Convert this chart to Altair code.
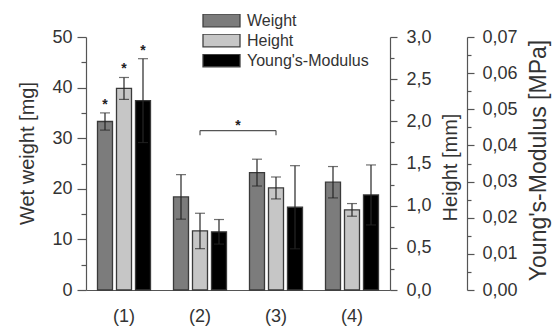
import altair as alt
import pandas as pd

FONT = "Liberation Sans"
TXT = "#333333"
AX = "#555555"

groups = ["(1)", "(2)", "(3)", "(4)"]
series = ["Weight", "Height", "Young's-Modulus"]
colors = ["#7c7c7c", "#c6c6c6", "#000000"]

weight_mean = [33.3, 18.4, 23.2, 21.3]
weight_sd = [1.7, 4.4, 2.65, 3.1]
height_mean = [2.39, 0.70, 1.21, 0.95]
height_sd = [0.13, 0.21, 0.13, 0.075]
ym_mean = [0.0524, 0.0161, 0.0229, 0.0263]
ym_sd = [0.0116, 0.0034, 0.0115, 0.0083]

# significance stars (group (1) for each series)
weight_star = [37.2, None, None, None]
height_star = [2.66, None, None, None]
ym_star = [0.0669, None, None, None]

# bracket between (2) and (3) on the weight scale
bracket_from = ["(2)"]
bracket_to = ["(3)"]
bracket_level = [31.5]
bracket_end = [30.6]
bracket_star = [33.1]

# axis ticks
weight_major = [0, 10, 20, 30, 40, 50]
weight_minor = [5, 15, 25, 35, 45]
height_major = [0.0, 0.5, 1.0, 1.5, 2.0, 2.5, 3.0]
height_minor = [0.25, 0.75, 1.25, 1.75, 2.25, 2.75]
ym_major = [0.0, 0.01, 0.02, 0.03, 0.04, 0.05, 0.06, 0.07]
ym_minor = [0.005, 0.015, 0.025, 0.035, 0.045, 0.055, 0.065]

xscale = alt.Scale(domain=groups, paddingInner=0, paddingOuter=0)
xaxis = alt.Axis(title=None, labelAngle=0, ticks=False, domainColor=AX, domainWidth=1.2,
                 labelFont=FONT, labelFontSize=18, labelColor=TXT, labelPadding=17)
offscale = alt.Scale(domain=series, paddingInner=0.21, paddingOuter=0.605)
colscale = alt.Scale(domain=series, range=colors)
legend = alt.Legend(orient="none", legendX=116, legendY=-23, title=None,
                    symbolType="M-1,-0.34H1V0.34H-1Z", symbolSize=1369, clipHeight=13,
                    symbolStrokeColor="#404040", symbolStrokeWidth=1.3,
                    labelFont=FONT, labelFontSize=16, labelColor=TXT, rowPadding=3,
                    labelOffset=6)


def X(field, **kw):
    return alt.X(field, type="nominal", scale=xscale, axis=xaxis, title=None, **kw)


def yaxis(orient, values, fmt, title, tx, ty, tfs, offset=None, major=9, pad=5):
    kw = dict(orient=orient, values=values, title=title, labelExpr=fmt,
              tickSize=major,
              titleAngle=270, titleX=tx, titleY=ty, titleAlign="center", titleBaseline="middle",
              labelPadding=pad, domainColor=AX, tickColor=AX, domainWidth=1.2, tickWidth=1.2,
              labelFont=FONT, labelFontSize=18, labelColor=TXT,
              titleFont=FONT, titleFontSize=tfs, titleColor=TXT, titleFontWeight="normal",
              grid=False)
    if offset:
        kw["offset"] = offset
    return alt.Axis(**kw)


def minor_layer(orient, values, domain, size, offset=None):
    kw = dict(orient=orient, values=values, title=None, labels=False, domain=False,
              tickSize=size, tickColor=AX, tickWidth=1.2, grid=False)
    if offset:
        kw["offset"] = offset
    df = pd.DataFrame({"v": values})
    return alt.Chart(df).mark_point(opacity=0).encode(
        y=alt.Y("v:Q", scale=alt.Scale(domain=domain, nice=False, zero=True), axis=alt.Axis(**kw)))


def star_text():
    return dict(text="*", font=FONT, fontSize=14, fontWeight="bold", color="#222222", dy=3)


def series_layer(name, means, sds, stars, domain, axis, extra=None):
    df = pd.DataFrame({
        "group": groups,
        "series": name,
        "mean": means,
        "lo": [m - s for m, s in zip(means, sds)],
        "hi": [m + s for m, s in zip(means, sds)],
        "star": stars,
    })
    ys = alt.Scale(domain=domain, nice=False, zero=True)
    base = alt.Chart(df).encode(x=X("group"), xOffset=alt.XOffset("series:N", scale=offscale))
    bars = base.mark_bar(stroke="#3a3a3a", strokeWidth=1.3).encode(
        y=alt.Y("mean:Q", scale=ys, axis=axis),
        color=alt.Color("series:N", scale=colscale, legend=legend),
    )
    err = base.mark_rule(color="#262626", strokeWidth=1.2).encode(
        y=alt.Y("lo:Q", scale=ys, axis=axis), y2="hi:Q")
    cap_hi = base.mark_tick(color="#333333", thickness=1.2, size=10).encode(
        y=alt.Y("hi:Q", scale=ys, axis=axis))
    cap_lo = base.mark_tick(color="#262626", thickness=1.2, size=10).encode(
        y=alt.Y("lo:Q", scale=ys, axis=axis))
    st = base.transform_filter("isValid(datum.star)").mark_text(**star_text()).encode(
        y=alt.Y("star:Q", scale=ys, axis=axis))
    layers = [bars, err, cap_hi, cap_lo, st]
    if extra is not None:
        layers += extra(ys, axis)
    return alt.layer(*layers)


def bracket(ys, axis):
    bdf = pd.DataFrame({"g1": bracket_from, "g2": bracket_to, "lvl": bracket_level,
                        "end": bracket_end, "star": bracket_star})
    edf = pd.DataFrame({"g": bracket_from + bracket_to, "lvl": bracket_level * 2,
                        "end": bracket_end * 2})
    top = alt.Chart(bdf).mark_rule(color="#555555", strokeWidth=1.2).encode(
        x=X("g1"), x2="g2:N", y=alt.Y("lvl:Q", scale=ys, axis=axis))
    ends = alt.Chart(edf).mark_rule(color="#555555", strokeWidth=1.2).encode(
        x=X("g"), y=alt.Y("lvl:Q", scale=ys, axis=axis), y2="end:Q")
    st = alt.Chart(bdf).mark_text(**star_text()).encode(
        x=X("g1", bandPosition=1), y=alt.Y("star:Q", scale=ys, axis=axis))
    return [top, ends, st]


w_axis = yaxis("left", weight_major, "datum.label", "Wet weight [mg]", -59, 116, 20)
h_axis = yaxis("right", height_major, "replace(format(datum.value, '.1f'), '.', ',')",
               "Height [mm]", 60, 130, 20, major=7, pad=9)
m_axis = yaxis("right", ym_major, "replace(format(datum.value, '.2f'), '.', ',')",
               "Young's-Modulus [MPa]", 71, 123, 23, offset=77, major=7, pad=8)

w_layer = series_layer("Weight", weight_mean, weight_sd, weight_star, [0, 50], w_axis, bracket)
h_layer = series_layer("Height", height_mean, height_sd, height_star, [0, 3], h_axis)
m_layer = series_layer("Young's-Modulus", ym_mean, ym_sd, ym_star, [0, 0.07], m_axis)

w_min = minor_layer("left", weight_minor, [0, 50], 5)
h_min = minor_layer("right", height_minor, [0, 3], 4)
m_min = minor_layer("right", ym_minor, [0, 0.07], 4, offset=77)

chart = alt.layer(w_layer, h_layer, m_layer, w_min, h_min, m_min).resolve_scale(
    y="independent").properties(
    width=304, height=253,
    autosize=alt.AutoSizeParams(type="none"),
    padding={"left": 78, "top": 29, "right": 162, "bottom": 36},
    background="white",
).configure_view(stroke=None)

chart.save("out.html", embed_options={"renderer": "svg", "actions": False})
